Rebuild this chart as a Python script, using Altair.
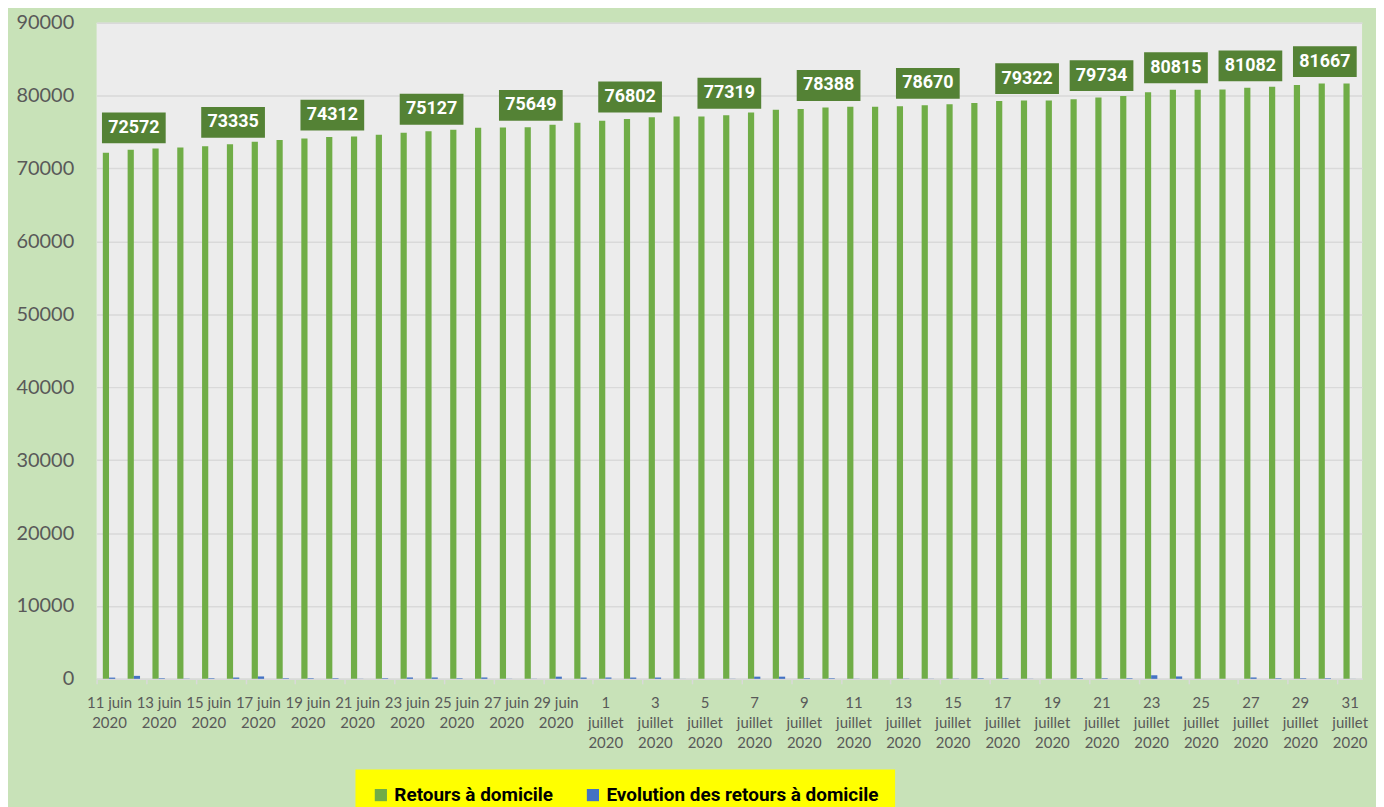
import altair as alt
import pandas as pd

# ---- data ----
jours_juin = list(range(11, 31))
jours_juillet = list(range(1, 32))
dates = [f"{d} juin 2020" for d in jours_juin] + [f"{d} juillet 2020" for d in jours_juillet]

retours = [
    72180, 72572, 72760, 72900, 73040, 73335, 73680, 73900, 74120, 74312,
    74400, 74620, 74900, 75127, 75320, 75600, 75620, 75649, 76000, 76270,
    76550, 76802, 77040, 77130, 77140, 77319, 77680, 78050, 78180, 78388,
    78460, 78470, 78540, 78670, 78820, 79000, 79270, 79322, 79330, 79500,
    79734, 79960, 80450, 80815, 80820, 80830, 81082, 81230, 81460, 81667,
    81680,
]
evolution = [
    170, 409, 80, 30, 80, 180, 330, 80, 80, 80,
    20, 80, 190, 190, 80, 190, 20, 20, 300, 180,
    180, 180, 180, 10, 0, 20, 300, 300, 80, 80,
    20, 0, 30, 20, 30, 80, 80, 20, 0, 80,
    80, 80, 490, 330, 0, 0, 190, 80, 80, 80,
    10,
]

label_dates = [
    "12 juin 2020", "16 juin 2020", "20 juin 2020", "24 juin 2020", "28 juin 2020",
    "2 juillet 2020", "6 juillet 2020", "10 juillet 2020", "14 juillet 2020",
    "18 juillet 2020", "21 juillet 2020", "24 juillet 2020", "27 juillet 2020",
    "30 juillet 2020",
]
label_values = [72572, 73335, 74312, 75127, 75649, 76802, 77319, 78388, 78670,
                79322, 79734, 80815, 81082, 81667]

series_names = ["Retours à domicile", "Evolution des retours à domicile"]
series_colors = ["#70ad47", "#4472c4"]
y_ticks = [0, 10000, 20000, 30000, 40000, 50000, 60000, 70000, 80000, 90000]

# ---- tables ----
rows = []
for d, r, e in zip(dates, retours, evolution):
    rows.append({"date": d, "serie": series_names[0], "valeur": r})
    rows.append({"date": d, "serie": series_names[1], "valeur": e})
df = pd.DataFrame(rows)
df_labels = pd.DataFrame({"date": label_dates, "valeur": label_values})

AXIS_FONT = "Lato"
BOLD_FONT = "Roboto"

PLOT_W = 1271
HALF_STEP = PLOT_W / len(dates) / 2

x_enc = alt.X(
    "date:N",
    sort=dates,
    scale=alt.Scale(paddingInner=0.5, paddingOuter=0.25),
    axis=alt.Axis(
        title=None,
        values=dates[::2],
        labelAngle=0,
        labelOverlap=False,
        labelLimit=200,
        labelFont=AXIS_FONT,
        labelFontSize=15,
        labelColor="#595959",
        labelPadding=12,
        labelLineHeight=20,
        labelBaseline="top",
        labelExpr="indexof(datum.value, 'juillet') >= 0 ? split(datum.value, ' ') : [replace(datum.value, ' 2020', ''), '2020']",
        ticks=True,
        tickColor="#d9d9d9",
        tickWidth=1.5,
        tickSize=5,
        tickOffset=-HALF_STEP,
        labelOffset=HALF_STEP,
        domain=True,
        domainColor="#d9d9d9",
        domainWidth=1.5,
        grid=False,
    ),
)
y_enc = alt.Y(
    "valeur:Q",
    scale=alt.Scale(domain=[0, 90000], nice=False),
    axis=alt.Axis(
        title=None,
        values=y_ticks,
        format="d",
        labelFont=AXIS_FONT,
        labelFontSize=20,
        labelColor="#595959",
        labelPadding=23,
        ticks=False,
        domain=False,
        grid=True,
        gridColor="#d9d9d9",
        gridWidth=1.5,
        minExtent=84,
        maxExtent=84,
    ),
)

bars = alt.Chart(df).mark_bar().encode(
    x=x_enc,
    xOffset=alt.XOffset("serie:N", sort=series_names, scale=alt.Scale(paddingInner=0, paddingOuter=0)),
    y=y_enc,
    color=alt.Color(
        "serie:N",
        sort=series_names,
        scale=alt.Scale(domain=series_names, range=series_colors),
        legend=alt.Legend(
            title=None,
            orient="none",
            legendX=260,
            legendY=750,
            direction="horizontal",
            fillColor="#ffff00",
            padding=16,
            labelFont=BOLD_FONT,
            labelFontSize=19,
            labelFontWeight="bold",
            labelColor="#000000",
            labelLimit=400,
            labelOffset=4,
            symbolType="square",
            symbolSize=150,
            symbolStrokeWidth=0,
            columnPadding=30,
        ),
    ),
)

box_shape = "M-1,-0.484L1,-0.484L1,0.484L-1,0.484Z"
boxes = alt.Chart(df_labels).mark_point(
    shape=box_shape, size=4096, filled=True, color="#548235", opacity=1, yOffset=-22
).encode(
    x=alt.X("date:N", sort=dates),
    y=alt.Y("valeur:Q"),
)
texts = alt.Chart(df_labels).mark_text(
    font=BOLD_FONT, fontSize=18, fontWeight="bold", color="#ffffff",
    baseline="middle", align="center", yOffset=-22,
).encode(
    x=alt.X("date:N", sort=dates),
    y=alt.Y("valeur:Q"),
    text=alt.Text("valeur:Q", format="d"),
)

chart = (
    alt.layer(bars, boxes, texts)
    .properties(
        width=PLOT_W,
        height=659,
        background="#c8e2b8",
        padding={"left": 5, "top": 3, "right": 8, "bottom": 0},
    )
    .configure_view(fill="#ececec", stroke=None)
)

chart.save("out.html", embed_options={"renderer": "svg", "actions": False})
